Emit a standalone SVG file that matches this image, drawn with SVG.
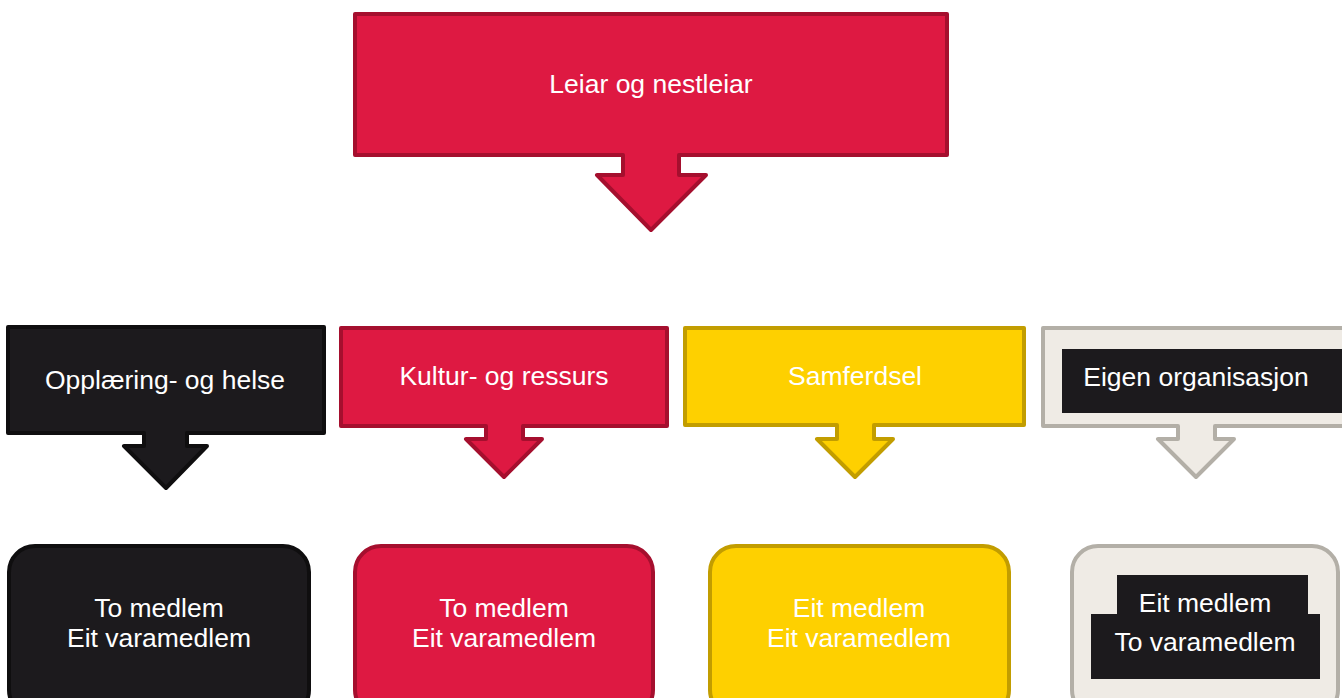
<svg xmlns="http://www.w3.org/2000/svg" width="1342" height="698" viewBox="0 0 1342 698">
<style>
.t{font-family:"Liberation Sans",Arial,sans-serif;font-size:26.5px;fill:#ffffff;text-anchor:middle}
.red{fill:#DE1942;stroke:#A50F2E;stroke-width:4;stroke-linejoin:round}
.blk{fill:#1C1A1D;stroke:#0F0E0F;stroke-width:4;stroke-linejoin:round}
.yel{fill:#FED000;stroke:#C29D00;stroke-width:4;stroke-linejoin:round}
.bei{fill:#EFEBE5;stroke:#B3AFA7;stroke-width:4;stroke-linejoin:round}
.dk{fill:#1C1A1D}
</style>
<rect width="1342" height="698" fill="#ffffff"/>
<g id="leiar">
<path class="red" d="M355,14 H947 V155 H679 V175 H706 L651,230 L597,175 H623 V155 H355 Z"/>
<text class="t" x="651" y="93">Leiar og nestleiar</text>
</g>
<g id="opplaering">
<path class="blk" d="M8,327 H324 V433 H187 V446 H207 L166,488 L124,446 H144 V433 H8 Z"/>
<text class="t" x="165" y="389">Opplæring- og helse</text>
</g>
<g id="kultur">
<path class="red" d="M341,328 H667 V426 H523 V439 H542 L504,477 L466,439 H486 V426 H341 Z"/>
<text class="t" x="504" y="385">Kultur- og ressurs</text>
</g>
<g id="samferdsel">
<path class="yel" d="M685,328 H1024 V425 H874 V439 H893 L855,477 L817,439 H837 V425 H685 Z"/>
<text class="t" x="855" y="385">Samferdsel</text>
</g>
<g id="eigen">
<path class="bei" d="M1043,328 H1350 V426 H1215 V439 H1234 L1196,477 L1158,439 H1178 V426 H1043 Z"/>
<rect class="dk" x="1062" y="349" width="290" height="64"/>
<text class="t" x="1196" y="386">Eigen organisasjon</text>
</g>
<g id="b1">
<rect class="blk" x="9" y="546" width="300" height="170" rx="26"/>
<text class="t" x="159" y="617">To medlem</text>
<text class="t" x="159" y="647">Eit varamedlem</text>
</g>
<g id="b2">
<rect class="red" x="355" y="546" width="298" height="170" rx="26"/>
<text class="t" x="504" y="617">To medlem</text>
<text class="t" x="504" y="647">Eit varamedlem</text>
</g>
<g id="b3">
<rect class="yel" x="710" y="546" width="299" height="170" rx="26"/>
<text class="t" x="859" y="617">Eit medlem</text>
<text class="t" x="859" y="647">Eit varamedlem</text>
</g>
<g id="b4">
<rect class="bei" x="1072" y="546" width="266" height="170" rx="26"/>
<rect class="dk" x="1117" y="575" width="191" height="40"/>
<rect class="dk" x="1091" y="614" width="229" height="65"/>
<text class="t" x="1205" y="612">Eit medlem</text>
<text class="t" x="1205" y="651">To varamedlem</text>
</g>
<g id="connectors"/>
</svg>
